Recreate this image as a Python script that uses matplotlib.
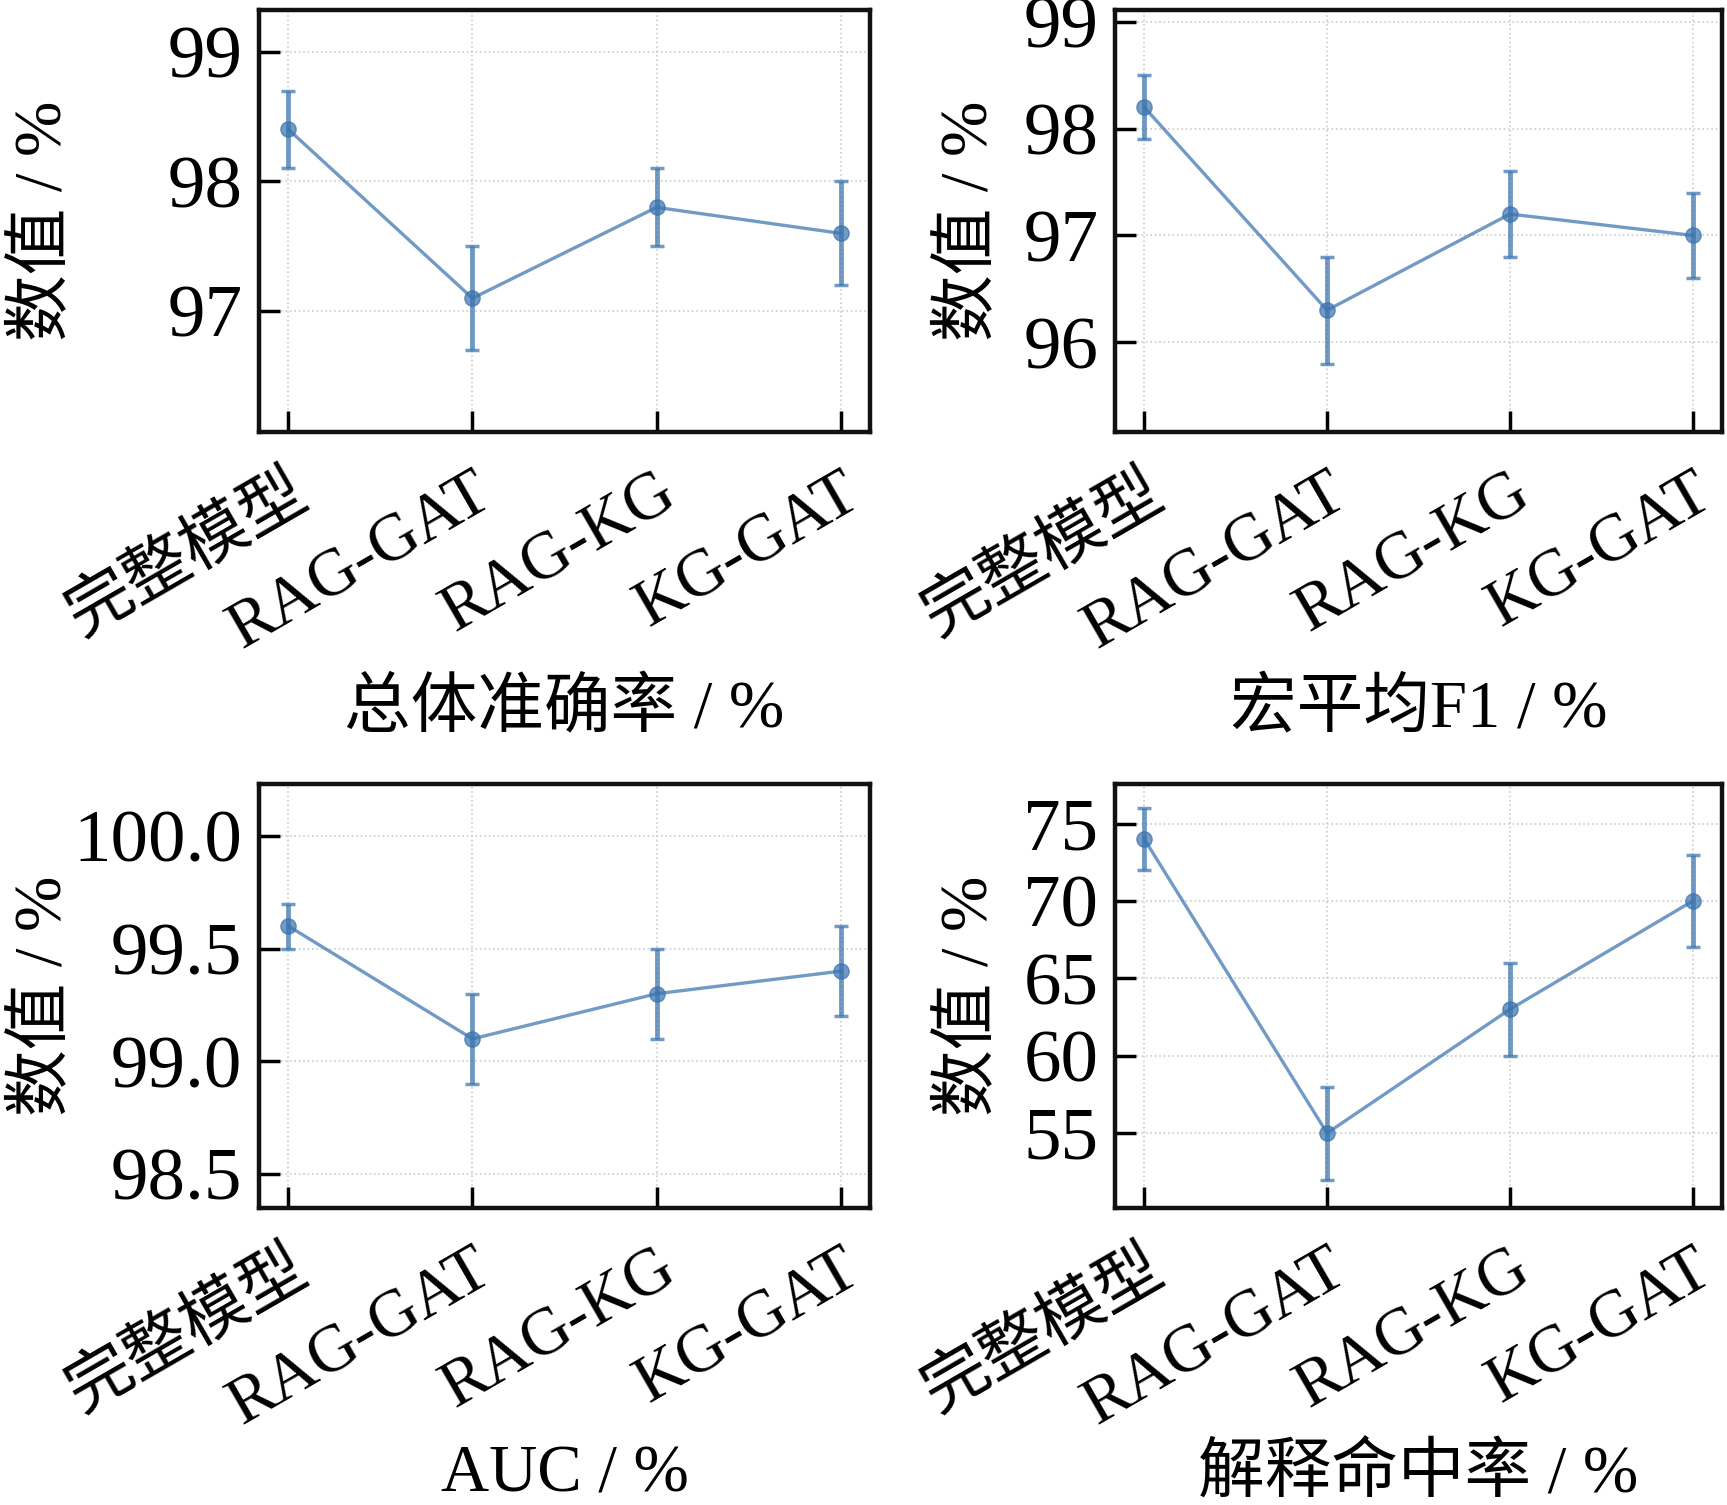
import matplotlib
matplotlib.use("Agg")
import matplotlib.pyplot as plt
import matplotlib.transforms as mtransforms

plt.rcParams['font.family'] = ['Liberation Serif', 'Noto Sans CJK SC', 'DejaVu Sans']
plt.rcParams['axes.unicode_minus'] = False

models = ['完整模型', 'RAG-GAT', 'RAG-KG', 'KG-GAT']

acc_vals = [98.4, 97.1, 97.8, 97.6]
acc_err = [0.3, 0.4, 0.3, 0.4]
f1_vals = [98.2, 96.3, 97.2, 97.0]
f1_err = [0.3, 0.5, 0.4, 0.4]
auc_vals = [99.6, 99.1, 99.3, 99.4]
auc_err = [0.1, 0.2, 0.2, 0.2]
hit_vals = [74, 55, 63, 70]
hit_err = [2, 3, 3, 3]

metric_names = ['总体准确率 / %', '宏平均F1 / %', 'AUC / %', '解释命中率 / %']
ylims = [(96.07, 99.32), (95.16, 99.11), (98.35, 100.23), (50.16, 77.56)]
yticks = [[97, 98, 99], [96, 97, 98, 99], [98.5, 99.0, 99.5, 100.0], [55, 60, 65, 70, 75]]
yfmt = ['{:.0f}', '{:.0f}', '{:.1f}', '{:.0f}']

series = [(acc_vals, acc_err), (f1_vals, f1_err), (auc_vals, auc_err), (hit_vals, hit_err)]

fig = plt.figure(figsize=(17.27, 15.05), dpi=100)
W, H = 1727, 1505
boxes = [(259, 10, 870, 432), (1115, 10, 1722, 432),
         (259, 784, 870, 1208), (1115, 784, 1722, 1208)]
ylab_x = [-0.303, -0.19, -0.303, -0.19]
xlab_y = [-0.585, -0.585, -0.558, -0.558]

color = '#3b74ae'
fs_tick = 54
fs_lab = 48
fs_xt = 48

for i, (vals, err) in enumerate(series):
    l, t, r, b = boxes[i]
    ax = fig.add_axes([l / W, 1 - b / H, (r - l) / W, (b - t) / H])
    x = list(range(len(models)))
    ax.errorbar(x, vals, yerr=err, color=color, ecolor=color, elinewidth=3.5,
                capsize=5, capthick=2.5, marker='o', markersize=11, linewidth=2.4,
                alpha=0.72, zorder=3)
    ax.set_xlim(-0.16, 3.16)
    ax.set_ylim(*ylims[i])
    ax.set_yticks(yticks[i])
    ax.set_yticklabels([yfmt[i].format(v) for v in yticks[i]])
    ax.set_xticks(x)
    ax.set_xticklabels(models, rotation=30, ha='right', rotation_mode='default')
    ax.tick_params(axis='both', direction='in', length=15, width=2.5,
                   top=False, right=False)
    ax.tick_params(axis='y', pad=12, labelsize=fs_tick)
    ax.tick_params(axis='x', pad=22, labelsize=fs_xt)
    off = mtransforms.ScaledTranslation(30 / 100, 0, fig.dpi_scale_trans)
    for lab in ax.get_xticklabels():
        lab.set_transform(lab.get_transform() + off)
    ax.grid(True, color='#cccccc', linestyle=':', linewidth=1.2, zorder=0)
    for s in ax.spines.values():
        s.set_linewidth(3.2)
        s.set_color('#111111')
    ax.set_ylabel('数值 / %', fontsize=fs_lab)
    ax.yaxis.set_label_coords(ylab_x[i], 0.5)
    ax.set_xlabel(metric_names[i], fontsize=fs_lab)
    ax.xaxis.set_label_coords(0.5, xlab_y[i])

fig.savefig('out.png', dpi=100)
